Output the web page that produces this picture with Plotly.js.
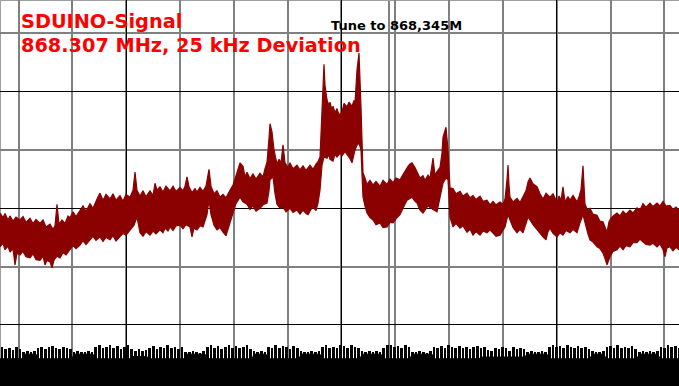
<!DOCTYPE html>
<html>
<head>
<meta charset="utf-8">
<script src="https://cdn.plot.ly/plotly-3.0.1.min.js"></script>
<style>html,body{margin:0;padding:0;background:#fff;}#chart{width:679px;height:386px;}</style>
</head>
<body>
<div id="chart"></div>
<script>
// Frequency bins (screen columns of the analyser sweep) and levels in dB
const titleLine1 = "SDUINO-Signal";
const titleLine2 = "868.307 MHz, 25 kHz Deviation";
const tuneLabel = "Tune to 868,345M";
const tuneBin = 389;

// Upper envelope of the spectrum trace
const upperBins = [0,3,5,8,10,13,16,20,23,26,30,33,36,40,43,46,50,53,55,57,59,62,65,68,70,73,76,80,83,86,90,93,96,98,100,103,106,110,113,116,120,123,126,130,133,135,137,140,143,146,150,153,155,157,160,163,166,170,173,176,180,183,185,187,189,192,195,197,200,203,206,209,211,214,217,220,223,226,230,233,236,238,240,243,245,247,250,253,256,260,263,265,267,269,270,272,274,277,279,281,283,285,288,290,293,297,300,303,306,310,313,316,318,320,322,324,325,327,329,330,332,333,335,337,339,342,344,347,349,352,354,355,357,359,361,362,363,365,367,370,373,376,380,383,387,390,393,396,400,403,405,408,410,412,415,418,420,423,425,428,430,433,435,437,440,442,443,446,448,450,453,456,460,463,467,470,473,476,480,483,487,490,493,496,500,503,505,507,508,509,510,513,517,520,523,526,528,530,533,537,540,543,546,550,553,557,559,561,563,565,568,570,573,577,579,581,583,585,588,590,593,597,600,603,605,607,609,611,614,617,620,623,626,630,633,637,640,643,646,650,653,657,660,663,666,670,673,676,679];
const upperDb = [-80.8,-81.6,-80.9,-82.0,-81.3,-82.2,-81.5,-82.0,-81.4,-82.4,-81.7,-82.6,-81.9,-82.6,-82.0,-83.2,-82.7,-83.6,-83.0,-79.3,-82.7,-82.0,-82.6,-81.3,-81.6,-80.6,-81.4,-80.3,-79.6,-80.5,-79.2,-80.0,-78.6,-78.0,-77.4,-78.6,-77.6,-78.4,-77.5,-78.6,-77.8,-78.8,-77.6,-78.1,-76.9,-73.8,-76.9,-77.9,-77.0,-78.0,-77.0,-77.8,-75.7,-76.9,-76.3,-77.2,-76.2,-77.0,-76.2,-77.1,-76.4,-77.0,-76.2,-74.6,-76.3,-77.3,-76.6,-77.2,-76.4,-77.1,-76.2,-73.3,-76.2,-77.5,-77.0,-78.1,-77.6,-78.2,-76.9,-76.0,-74.4,-73.1,-72.2,-72.8,-74.6,-73.8,-74.9,-74.1,-75.0,-74.0,-74.6,-73.2,-72.1,-68.0,-65.5,-66.9,-70.0,-72.4,-71.6,-72.2,-69.1,-72.2,-73.0,-72.2,-73.2,-72.6,-73.4,-72.7,-73.5,-72.6,-73.3,-72.4,-72.0,-71.2,-64.3,-55.3,-58.9,-61.4,-62.4,-61.8,-63.2,-62.5,-63.6,-62.9,-64.0,-63.5,-62.0,-62.6,-61.8,-62.5,-61.5,-61.9,-56.3,-53.4,-62.6,-70.0,-73.9,-74.8,-75.9,-75.2,-76.0,-75.4,-76.2,-75.2,-75.9,-75.0,-75.6,-74.8,-75.1,-74.2,-73.6,-72.8,-72.4,-72.2,-73.0,-74.2,-74.8,-74.4,-75.2,-74.3,-74.8,-71.4,-74.3,-73.7,-73.0,-70.5,-67.8,-66.1,-70.0,-76.5,-76.6,-77.5,-77.1,-77.9,-77.4,-78.2,-77.8,-78.5,-77.9,-78.8,-78.6,-79.4,-78.8,-79.4,-78.9,-79.3,-78.4,-75.1,-72.6,-76.0,-78.1,-78.9,-78.3,-79.0,-77.9,-77.0,-75.5,-74.8,-75.8,-76.3,-77.5,-78.4,-77.4,-78.1,-77.5,-78.9,-77.9,-78.6,-76.3,-78.9,-78.0,-78.6,-77.8,-78.9,-78.0,-76.8,-72.7,-79.3,-80.4,-80.0,-81.0,-81.2,-82.2,-82.3,-83.2,-84.1,-82.3,-81.7,-81.2,-80.8,-81.3,-80.5,-81.0,-80.3,-80.8,-79.9,-80.3,-79.2,-79.8,-79.1,-79.7,-79.1,-79.6,-78.8,-79.6,-79.5,-80.2,-79.8,-80.3];

// Lower envelope of the spectrum trace
const lowerBins = [0,3,5,8,10,13,15,17,20,23,26,30,33,36,40,43,45,47,50,52,54,57,60,63,66,70,73,76,80,83,86,90,93,96,100,103,106,110,113,116,120,123,126,130,134,137,139,140,143,146,150,153,156,160,163,165,168,170,173,176,180,183,186,190,192,194,197,200,203,205,207,209,211,214,217,220,223,226,228,230,233,236,240,243,247,250,253,256,260,263,267,269,270,273,275,277,280,283,286,290,293,297,300,303,306,308,311,313,316,318,320,322,324,327,329,330,333,335,337,340,342,345,347,350,352,354,355,357,359,361,362,363,365,367,370,373,376,380,383,387,390,393,396,400,403,407,410,412,415,417,420,423,425,428,430,433,437,440,443,446,448,450,453,456,460,463,467,470,473,476,480,483,487,490,493,496,500,503,505,508,510,513,517,520,523,526,528,530,533,537,540,543,546,548,550,553,557,560,563,566,570,573,577,580,583,585,588,590,593,597,600,603,605,607,610,613,617,620,623,626,630,633,637,640,643,646,650,653,657,660,663,665,667,670,673,676,679];
const lowerDb = [-86.6,-86.0,-87.1,-86.5,-87.5,-86.9,-89.7,-87.7,-88.0,-87.4,-88.3,-88.5,-87.8,-88.8,-88.9,-88.2,-89.7,-88.9,-89.2,-90.2,-88.9,-88.2,-88.5,-87.6,-88.0,-87.1,-86.4,-86.9,-86.3,-85.6,-86.2,-85.4,-84.8,-85.5,-84.9,-85.7,-85.0,-85.4,-84.7,-85.6,-84.9,-84.3,-84.6,-83.7,-82.9,-81.5,-83.4,-84.2,-84.8,-84.0,-84.6,-83.9,-84.4,-83.7,-84.2,-83.4,-83.9,-83.2,-83.8,-83.0,-82.9,-83.5,-82.8,-83.2,-84.9,-83.4,-83.7,-83.0,-83.2,-82.4,-81.1,-78.6,-81.1,-82.9,-83.7,-83.3,-84.1,-84.7,-83.2,-82.5,-80.8,-79.2,-78.1,-78.9,-79.3,-80.2,-79.6,-80.5,-80.0,-79.4,-79.1,-77.0,-75.1,-74.6,-77.5,-79.3,-80.0,-79.8,-80.6,-80.0,-80.7,-80.3,-81.0,-80.3,-80.9,-81.1,-80.2,-79.8,-80.4,-79.1,-76.9,-72.6,-71.2,-71.4,-70.8,-71.6,-71.9,-70.8,-71.2,-70.6,-71.0,-70.3,-70.8,-71.5,-72.2,-70.8,-70.0,-69.2,-68.8,-70.0,-74.3,-78.1,-79.6,-80.8,-81.6,-82.0,-82.8,-82.5,-83.3,-83.2,-82.4,-82.5,-81.8,-81.1,-80.0,-78.6,-78.3,-78.1,-78.8,-79.1,-80.3,-80.8,-80.3,-79.6,-79.8,-80.2,-80.6,-78.1,-75.7,-74.8,-75.1,-81.5,-83.2,-82.6,-83.4,-83.0,-84.1,-83.6,-84.6,-84.0,-84.6,-83.9,-84.2,-83.7,-84.2,-84.8,-84.6,-83.8,-83.2,-81.1,-82.0,-83.3,-84.2,-83.6,-84.2,-82.6,-81.5,-82.0,-82.8,-83.7,-84.3,-84.9,-85.4,-84.0,-83.4,-84.3,-84.9,-84.2,-84.6,-83.8,-84.2,-83.6,-84.2,-82.5,-81.1,-82.5,-84.4,-85.4,-85.8,-86.6,-86.9,-87.7,-88.6,-89.7,-88.3,-87.4,-87.1,-86.5,-87.1,-86.4,-86.6,-85.9,-85.9,-85.3,-85.8,-86.2,-86.3,-86.0,-86.6,-86.1,-87.1,-88.3,-86.8,-86.6,-87.3,-86.7,-87.1];

// Noise of the lower (black) trace: spike tops, one every 3.6 bins starting at bin 2
const noiseStart = 2, noiseStep = 3.6;
const noisePeaksDb = [-103.8,-104.2,-103.9,-104.3,-103.7,-104.1,
 -104.6,-104.4,-104.7,-104.5,
 -103.9,-103.7,-104.2,-103.8,-103.6,-104.0,-104.2,-103.7,-103.9,-104.1,
 -104.6,-104.5,-104.7,-104.6,-104.4,-104.6,
 -103.8,-103.5,-104.0,-103.7,-103.4,-103.9,-103.6,-104.1,-103.8,-103.5,
 -104.2,-104.4,-104.1,-104.5,-104.3,
 -103.9,-103.6,-104.1,-103.7,-103.9,-103.5,-104.0,-103.8,-104.2,-103.7,
 -104.6,-104.7,-104.5,-104.6,-104.8,-104.5,
 -103.8,-103.5,-103.9,-103.6,-104.1,-103.7,-103.4,-103.9,-103.6,-104.0,-103.8,-103.5,-104.1,
 -104.5,-104.6,-104.4,-104.6,
 -103.7,-103.9,-103.5,-104.0,-103.6,-103.8,-104.1,-103.6,-103.9,
 -104.5,-104.7,-104.6,-104.5,-104.7,-104.4,
 -103.8,-103.5,-104.0,-103.7,-103.9,-103.4,-103.6,-104.0,-103.5,-103.7,-103.9,
 -104.4,-104.6,-104.5,-104.7,-104.5,-104.6,
 -103.9,-103.5,-103.4,-103.8,-103.6,-103.9,-103.5,-103.8,
 -104.6,-104.7,-104.5,-104.6,-104.8,-104.5,
 -103.8,-104.0,-103.6,-103.9,-103.4,-103.7,-104.0,-103.6,-103.9,-103.7,-104.1,-103.8,-103.6,
 -104.0,-103.8,-104.3,-104.5,-103.9,-104.2,-103.7,-104.0,-104.4,-103.8,-104.1,-103.9,-104.2,
 -104.6,-104.5,-104.7,-104.6,-104.5,-104.7,
 -103.7,-103.4,-103.8,-103.6,-103.9,-103.5,-103.8,-104.0,-103.6,-103.9,-103.7,-104.1,
 -104.5,-104.7,-104.6,-104.5,
 -103.8,-103.6,-103.9,-103.5,-104.0,-103.7,-103.9,-103.6,-104.1,
 -104.6,-104.5,-104.7,-104.4,-104.6,-104.5,
 -103.7,-103.9,-103.5,-103.8,-103.6,-103.9];

// Floor of the black noise trace
const floorBins = [0,22,24,36,38,72,74,93,95,130,132,147,149,184,186,205,207,252,254,266,268,299,301,320,322,360,362,381,383,410,412,432,434,479,481,525,527,547,549,590,592,604,606,637,639,658,660,679];
const floorDb = [-105.8,-105.8,-105.0,-105.0,-105.8,-105.8,-105.0,-105.0,-105.8,-105.8,-105.4,-105.4,-105.8,-105.8,-105.0,-105.0,-105.8,-105.8,-105.0,-105.0,-105.8,-105.8,-105.0,-105.0,-105.8,-105.8,-105.0,-105.0,-105.8,-105.8,-105.0,-105.0,-105.8,-105.8,-105.5,-105.5,-105.0,-105.0,-105.8,-105.8,-105.0,-105.0,-105.8,-105.8,-105.0,-105.0,-105.8,-105.8];

const yMin = -110.46, yMax = -44.29, xMin = 0, xMax = 679;
const red = '#8b0000';

const polyX = upperBins.concat(lowerBins.slice().reverse());
const polyY = upperDb.concat(lowerDb.slice().reverse());

const noiseX = noisePeaksDb.map((v, i) => noiseStart + noiseStep * i);
const floorPolyX = floorBins.concat([xMax + 1, -1]);
const floorPolyY = floorDb.concat([yMin - 2, yMin - 2]);

const traces = [
  {x: polyX, y: polyY, type: 'scatter', mode: 'lines', fill: 'toself',
   fillcolor: red, line: {color: red, width: 1.2}, hoverinfo: 'skip'},
  {x: floorPolyX, y: floorPolyY, type: 'scatter', mode: 'lines', fill: 'toself',
   fillcolor: '#000', line: {color: '#000', width: 1}, hoverinfo: 'skip'},
  {x: noiseX, y: noisePeaksDb.map(v => v - (yMin - 2)), base: yMin - 2, type: 'bar',
   width: 2.6, marker: {color: '#000', line: {width: 0}}, hoverinfo: 'skip'}
];

const layout = {
  width: 679, height: 386,
  margin: {l: 0, r: 0, t: 0, b: 0, pad: 0},
  paper_bgcolor: '#fff', plot_bgcolor: '#fff',
  showlegend: false, bargap: 0,
  xaxis: {range: [xMin, xMax], showticklabels: false, ticks: '', zeroline: false,
          tick0: 126.2, dtick: 215.33, showgrid: true, gridcolor: '#000', gridwidth: 1,
          minor: {tick0: 18.5, dtick: 53.83, showgrid: true, gridcolor: '#808080', gridwidth: 2}},
  yaxis: {range: [yMin, yMax], showticklabels: false, ticks: '', zeroline: false,
          tick0: -100, dtick: 20, showgrid: true, gridcolor: '#000', gridwidth: 1,
          minor: {tick0: -50, dtick: 10, showgrid: true, gridcolor: '#808080', gridwidth: 2}},
  shapes: [
    {type: 'line', xref: 'x', yref: 'paper', x0: tuneBin, x1: tuneBin, y0: 0, y1: 1,
     line: {color: '#808080', width: 2}, layer: 'between'},
    {type: 'line', xref: 'paper', yref: 'paper', x0: 0, x1: 0, y0: 0, y1: 1,
     line: {color: '#a0a0a0', width: 2}, layer: 'between'},
    {type: 'line', xref: 'paper', yref: 'paper', x0: 0, x1: 1, y0: 1, y1: 1,
     line: {color: '#a0a0a0', width: 2}, layer: 'between'}
  ],
  annotations: [
    {text: titleLine1, xref: 'paper', yref: 'paper', x: 0.0275, y: 0.9780,
     xanchor: 'left', yanchor: 'top', showarrow: false,
     font: {family: 'DejaVu Sans', size: 19.3, weight: 'bold', color: '#ff0000'}},
    {text: titleLine2, xref: 'paper', yref: 'paper', x: 0.0275, y: 0.9175,
     xanchor: 'left', yanchor: 'top', showarrow: false,
     font: {family: 'DejaVu Sans', size: 19.3, weight: 'bold', color: '#ff0000'}},
    {text: tuneLabel, xref: 'paper', yref: 'paper', x: 0.4845, y: 0.9580,
     xanchor: 'left', yanchor: 'top', showarrow: false,
     font: {family: 'DejaVu Sans', size: 13, weight: 'bold', color: '#000'}}
  ]
};

Plotly.newPlot('chart', traces, layout, {staticPlot: true, displayModeBar: false});
</script>
</body>
</html>
